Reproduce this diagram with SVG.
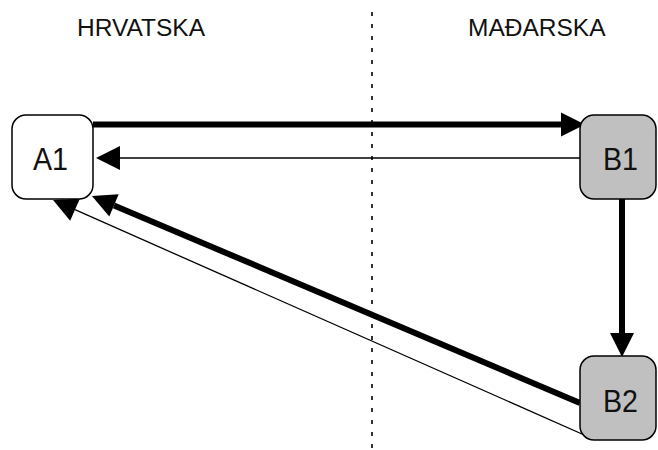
<svg xmlns="http://www.w3.org/2000/svg" width="658" height="450" viewBox="0 0 658 450">
  <defs>
    <style>
      .lbl { font-family: "Liberation Sans", Arial, sans-serif; font-size: 24.5px; fill: #111; }
      .ntxt { font-family: "Liberation Sans", Arial, sans-serif; font-size: 32px; fill: #111; }
      .box { stroke: #000; stroke-width: 1.5; }
      .white { fill: #fff; }
      .grey { fill: #c0c0c0; }
      .thick { fill: none; stroke: #000; stroke-width: 6; marker-end: url(#head); }
      .thin { fill: none; stroke: #000; stroke-width: 1.3; marker-end: url(#head); }
      .border { fill: none; stroke: #333; stroke-width: 2; stroke-dasharray: 4 8; }
    </style>
    <!-- triangle head anchored at its base; paths stop where the head starts -->
    <marker id="head" markerUnits="userSpaceOnUse" markerWidth="24" markerHeight="24" refX="0" refY="0" orient="auto" overflow="visible">
      <path d="M0,-12 L24,0 L0,12 Z" fill="#000"/>
    </marker>
  </defs>

  <rect width="658" height="450" fill="#fff"/>

  <!-- country labels and border -->
  <text class="lbl" x="77" y="36">HRVATSKA</text>
  <text class="lbl" x="468" y="36">MAĐARSKA</text>
  <line class="border" x1="372" y1="12" x2="372" y2="450"/>

  <g id="connectors">
    <path class="thick" d="M93,124.5 L561,124.5"/>
    <path class="thin" d="M580,158 L120,158"/>
    <path class="thick" d="M622,199 L622,333"/>
    <path class="thick" d="M580,403 L114,205.4"/>
    <path class="thin" d="M591,438 L75,209.7"/>
  </g>

  <g id="A1">
    <rect class="box white" x="12" y="115" width="81" height="84" rx="14"/>
    <text class="ntxt" x="33" y="170" textLength="35" lengthAdjust="spacingAndGlyphs">A1</text>
  </g>
  <g id="B1">
    <rect class="box grey" x="580" y="115" width="76" height="84" rx="14"/>
    <text class="ntxt" x="603" y="170" textLength="35" lengthAdjust="spacingAndGlyphs">B1</text>
  </g>
  <g id="B2">
    <rect class="box grey" x="580" y="356" width="76" height="84" rx="14"/>
    <text class="ntxt" x="603" y="412" textLength="35" lengthAdjust="spacingAndGlyphs">B2</text>
  </g>
</svg>
